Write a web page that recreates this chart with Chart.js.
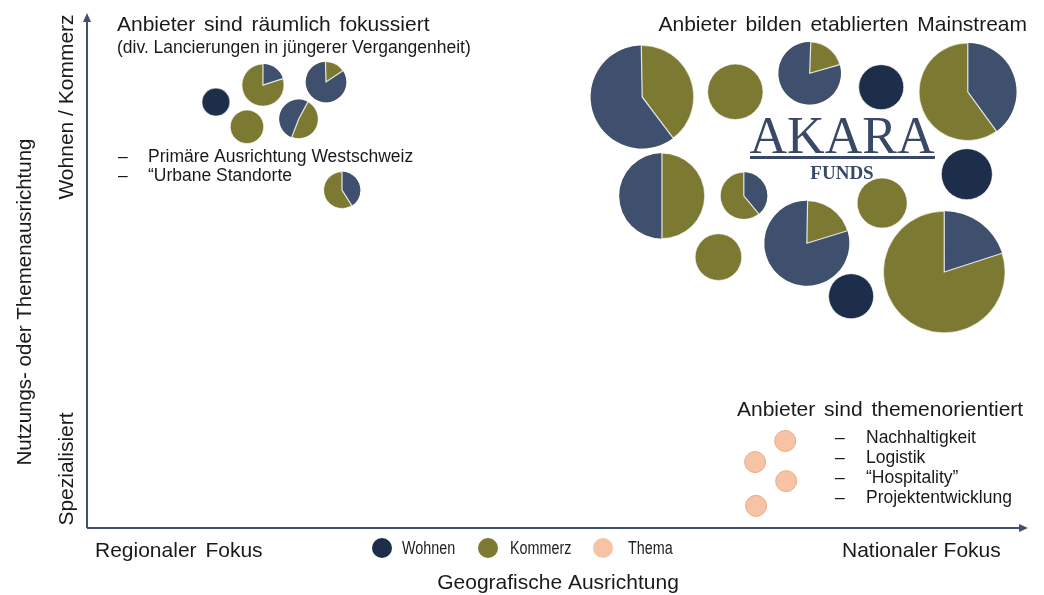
<!DOCTYPE html>
<html>
<head>
<meta charset="utf-8">
<script src="https://cdn.jsdelivr.net/npm/chart.js@4.4.3/dist/chart.umd.min.js"></script>
<style>
  html, body { margin: 0; padding: 0; background: #ffffff; }
  #wrap { position: relative; width: 1044px; height: 595px; }
</style>
</head>
<body>
<div id="wrap"><canvas id="positioning-chart"></canvas></div>
<script>
// Positions on a 0-100 grid: x = regional -> national, y = specialised -> Wohnen/Kommerz
// r = bubble radius (fund size)
const wohnenX = [13.7, 84.4, 93.5, 81.2];
const wohnenY = [82.7, 85.6, 68.7, 45.0];
const wohnenR = [14, 22.5, 25.5, 22.5];

const kommerzX = [17.0, 68.9, 67.1, 84.5];
const kommerzY = [77.9, 84.7, 52.6, 63.1];
const kommerzR = [16.7, 27.7, 23.3, 25];

const themaX = [74.2, 71.0, 74.3, 71.1];
const themaY = [16.9, 12.8, 9.1, 4.3];
const themaR = [10.5, 10.5, 10.5, 10.5];

// mixed funds, drawn as pies (Wohnen share, rest Kommerz)
const mixX = [18.7, 25.4, 22.5, 27.1, 59.0, 76.8, 93.6, 61.1, 69.8, 76.5, 91.1];
const mixY = [86.0, 86.6, 79.4, 65.6, 83.7, 88.3, 84.7, 64.5, 64.5, 55.3, 49.7];
const mixR = [21, 20.3, 19.5, 18.3, 51.5, 31.3, 48.7, 42.7, 23.5, 42.5, 60.8];
const mixWohnenShare = [0.2, 0.84, 0.52, 0.41, 0.6, 0.8, 0.4, 0.5, 0.39, 0.8, 0.2];
const mixWohnenStart = [0, 56, 201, 0, 143, 74, 0, 180, 0, 73, 0]; // degrees clockwise from 12 o'clock

const legendLabels = ["Wohnen", "Kommerz", "Thema"];

const COLORS = {
  wohnen: "#1c2e4a",
  wohnenSlice: "#3e506e",
  kommerz: "#7b7932",
  thema: "#f6c3a5",
  themaBorder: "#efa97f",
  axis: "#3f5070",
  text: "#1a1a1a",
};

const FONT = '"Liberation Sans", Arial, sans-serif';
const SERIF = '"Liberation Serif", "Times New Roman", serif';

function toPoints(xs, ys, rs) {
  return xs.map((x, i) => ({ x, y: ys[i], r: rs[i] }));
}

function drawText(ctx, str, x, y, size, align = "left", rotate = false, wordGap = "0px") {
  ctx.save();
  ctx.font = `${size}px ${FONT}`;
  ctx.fillStyle = COLORS.text;
  ctx.textAlign = align;
  ctx.textBaseline = "alphabetic";
  ctx.wordSpacing = wordGap;
  if (rotate) {
    ctx.translate(x, y);
    ctx.rotate(-Math.PI / 2);
    ctx.fillText(str, 0, 0);
  } else {
    ctx.fillText(str, x, y);
  }
  ctx.restore();
}

const axesPlugin = {
  id: "axesArrows",
  beforeDatasetsDraw(chart) {
    const { ctx, chartArea } = chart;
    const { left, right, top, bottom } = chartArea;
    ctx.save();
    ctx.strokeStyle = COLORS.axis;
    ctx.fillStyle = COLORS.axis;
    ctx.lineWidth = 2;
    ctx.beginPath();
    ctx.moveTo(left, bottom);
    ctx.lineTo(left, top + 8);
    ctx.moveTo(left, bottom);
    ctx.lineTo(right - 8, bottom);
    ctx.stroke();
    ctx.beginPath();
    ctx.moveTo(left, top);
    ctx.lineTo(left - 4, top + 9);
    ctx.lineTo(left + 4, top + 9);
    ctx.closePath();
    ctx.fill();
    ctx.beginPath();
    ctx.moveTo(right, bottom);
    ctx.lineTo(right - 9, bottom - 4);
    ctx.lineTo(right - 9, bottom + 4);
    ctx.closePath();
    ctx.fill();
    ctx.restore();
  },
};

const piePlugin = {
  id: "pieSlices",
  afterDatasetsDraw(chart) {
    const { ctx } = chart;
    const meta = chart.getDatasetMeta(3);
    ctx.save();
    meta.data.forEach((el, i) => {
      const r = mixR[i];
      const a0 = ((mixWohnenStart[i] - 90) * Math.PI) / 180;
      const a1 = a0 + mixWohnenShare[i] * Math.PI * 2;
      ctx.beginPath();
      ctx.moveTo(el.x, el.y);
      ctx.arc(el.x, el.y, r, a0, a1);
      ctx.closePath();
      ctx.fillStyle = COLORS.wohnenSlice;
      ctx.fill();
      ctx.strokeStyle = "rgba(255,255,255,0.85)";
      ctx.lineWidth = 1.2;
      ctx.beginPath();
      ctx.moveTo(el.x + r * Math.cos(a0), el.y + r * Math.sin(a0));
      ctx.lineTo(el.x, el.y);
      ctx.lineTo(el.x + r * Math.cos(a1), el.y + r * Math.sin(a1));
      ctx.stroke();
    });
    ctx.restore();
  },
};

const annotationPlugin = {
  id: "annotations",
  afterDraw(chart) {
    const { ctx } = chart;

    // logo
    ctx.save();
    ctx.fillStyle = "#3a4868";
    ctx.textAlign = "center";
    ctx.font = `52px ${SERIF}`;
    ctx.fillText("AKARA", 842, 153);
    ctx.fillRect(750, 156, 185, 3);
    ctx.font = `bold 19px ${SERIF}`;
    ctx.fillText("FUNDS", 842, 179);
    ctx.restore();

    // group headings
    drawText(ctx, "Anbieter sind räumlich fokussiert", 117, 31, 21, "left", false, "3px");
    drawText(ctx, "(div. Lancierungen in jüngerer Vergangenheit)", 117, 53, 17.5);
    drawText(ctx, "–", 118, 162, 17.5);
    drawText(ctx, "Primäre Ausrichtung Westschweiz", 148, 162, 17.5);
    drawText(ctx, "–", 118, 181, 17.5);
    drawText(ctx, "“Urbane Standorte", 148, 181, 17.5);

    drawText(ctx, "Anbieter bilden etablierten Mainstream", 1027, 31, 21, "right", false, "3px");

    drawText(ctx, "Anbieter sind themenorientiert", 737, 416, 21, "left", false, "3px");
    const themes = ["Nachhaltigkeit", "Logistik", "“Hospitality”", "Projektentwicklung"];
    themes.forEach((t, i) => {
      drawText(ctx, "–", 835, 443 + i * 20, 17.5);
      drawText(ctx, t, 866, 443 + i * 20, 17.5);
    });

    // axis titles
    drawText(ctx, "Nutzungs- oder Themenausrichtung", 31, 302, 20.5, "center", true);
    drawText(ctx, "Wohnen / Kommerz", 73, 107, 21, "center", true);
    drawText(ctx, "Spezialisiert", 73, 469, 21, "center", true);
    drawText(ctx, "Regionaler Fokus", 95, 557, 21, "left", false, "3px");
    drawText(ctx, "Nationaler Fokus", 842, 557, 21);
    drawText(ctx, "Geografische Ausrichtung", 558, 589, 21, "center");

    // legend
    const legendX = [382, 488, 603];
    const textX = [402, 510, 628];
    legendLabels.forEach((label, i) => {
      const ds = chart.data.datasets[i];
      ctx.save();
      ctx.beginPath();
      ctx.arc(legendX[i], 548, 10, 0, Math.PI * 2);
      ctx.fillStyle = ds.backgroundColor;
      ctx.fill();
      ctx.restore();
      ctx.save();
      ctx.translate(textX[i], 554);
      ctx.scale(0.82, 1);
      ctx.font = `17.5px ${FONT}`;
      ctx.fillStyle = "#222";
      ctx.fillText(label, 0, 0);
      ctx.restore();
    });
  },
};

const canvas = document.getElementById("positioning-chart");

new Chart(canvas, {
  type: "bubble",
  data: {
    datasets: [
      {
        label: legendLabels[0],
        data: toPoints(wohnenX, wohnenY, wohnenR),
        backgroundColor: COLORS.wohnen,
        borderColor: "rgba(255,255,255,0.6)",
        borderWidth: 1,
      },
      {
        label: legendLabels[1],
        data: toPoints(kommerzX, kommerzY, kommerzR),
        backgroundColor: COLORS.kommerz,
        borderColor: "rgba(255,255,255,0.6)",
        borderWidth: 1,
      },
      {
        label: legendLabels[2],
        data: toPoints(themaX, themaY, themaR),
        backgroundColor: COLORS.thema,
        borderColor: COLORS.themaBorder,
        borderWidth: 1,
      },
      {
        label: "Gemischt",
        data: toPoints(mixX, mixY, mixR),
        backgroundColor: COLORS.kommerz,
        borderColor: "rgba(255,255,255,0.6)",
        borderWidth: 1,
      },
    ],
  },
  options: {
    responsive: true,
    maintainAspectRatio: false,
    animation: false,
    clip: false,
    layout: {
      autoPadding: false,
      padding: { left: 87, right: 16, top: 13, bottom: 67 },
    },
    scales: {
      x: { type: "linear", min: 0, max: 100, display: false },
      y: { type: "linear", min: 0, max: 100, display: false },
    },
    plugins: {
      legend: { display: false },
      tooltip: { enabled: false },
    },
  },
  plugins: [axesPlugin, piePlugin, annotationPlugin],
});
</script>
</body>
</html>
